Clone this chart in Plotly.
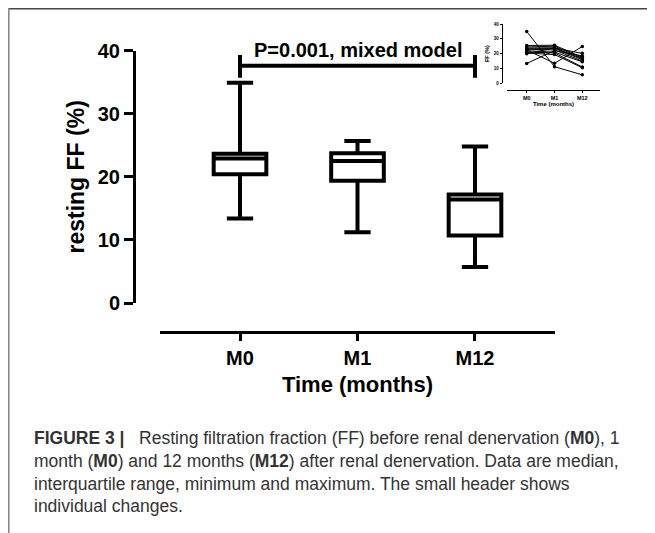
import plotly.graph_objects as go

# ---- data ----
categories = ["M0", "M1", "M12"]
q1_vals = [20.4, 19.4, 10.7]
median_vals = [22.9, 22.5, 16.4]
q3_vals = [23.65, 23.75, 17.2]
min_vals = [13.4, 11.2, 5.7]
max_vals = [34.9, 25.7, 24.8]

# individual patient trajectories (inset), values at M0, M1, M12
patients = [
    [34.9, 11.2, 5.7],
    [13.4, 22.0, 18.5],
    [22.5, 13.5, 24.8],
    [25.5, 25.7, 17.5],
    [24.5, 25.0, 17.0],
    [23.8, 24.0, 16.5],
    [23.2, 23.5, 16.0],
    [23.0, 22.5, 15.0],
    [22.0, 21.0, 14.5],
    [21.0, 20.5, 11.0],
    [20.4, 19.4, 10.5],
    [20.0, 23.8, 20.2],
]

p_text = "P=0.001, mixed model"
caption_lines = [
    "<b>FIGURE 3 |</b>" + "\u00a0" * 3
    + "Resting filtration fraction (FF) before renal denervation (<b>M0</b>), 1",
    "month (<b>M0</b>) and 12 months (<b>M12</b>) after renal denervation. Data are median,",
    "interquartile range, minimum and maximum. The small header shows",
    "individual changes.",
]

W, H = 655, 533
OFF = 8  # page body margin offset
FONT = "Liberation Sans"


def px_x(v):
    return (v - OFF) / W


def px_y(v):
    return 1 - (v - OFF) / H


fig = go.Figure()

fig.add_trace(go.Box(
    x=categories, q1=q1_vals, median=median_vals, q3=q3_vals,
    lowerfence=min_vals, upperfence=max_vals,
    fillcolor="white", line=dict(color="black", width=4),
    whiskerwidth=0.5, boxpoints=False, hoverinfo="skip",
    xaxis="x", yaxis="y", showlegend=False,
))

for p in patients:
    fig.add_trace(go.Scatter(
        x=categories, y=p, mode="lines+markers",
        line=dict(color="black", width=1),
        marker=dict(color="black", size=3.5),
        xaxis="x2", yaxis="y2", showlegend=False, hoverinfo="skip",
    ))

fig.update_layout(
    template="none",
    width=W, height=H,
    margin=dict(l=0, r=0, t=0, b=0, autoexpand=False),
    paper_bgcolor="white", plot_bgcolor="rgba(0,0,0,0)",
    boxgap=0.36,
    font=dict(family=FONT, color="black"),
    xaxis=dict(
        domain=[px_x(160), px_x(555)], range=[-0.681, 2.681],
        type="category", anchor="free", position=px_y(332), automargin=False,
        showline=True, linecolor="black", linewidth=3,
        ticks="outside", ticklen=7, tickwidth=3, tickcolor="black",
        showgrid=False, zeroline=False,
        tickfont=dict(size=20, family=FONT, weight="bold"),
        title=dict(text="Time (months)", font=dict(size=22, family=FONT, weight="bold"), standoff=8),
    ),
    yaxis=dict(
        domain=[px_y(303), px_y(50.7)], range=[0, 40],
        anchor="free", position=px_x(134), automargin=False,
        tickvals=[0, 10, 20, 30, 40],
        showline=True, linecolor="black", linewidth=3,
        ticks="outside", ticklen=9, tickwidth=3, tickcolor="black",
        showgrid=False, zeroline=False,
        tickfont=dict(size=20, family=FONT, weight="bold"),
        title=dict(text="resting FF (%)", font=dict(size=23, family=FONT, weight="bold"), standoff=5),
    ),
    xaxis2=dict(
        domain=[px_x(507), px_x(600)], range=[-0.709, 2.637],
        type="category", anchor="free", position=px_y(90), automargin=False,
        showline=True, linecolor="black", linewidth=1,
        ticks="outside", ticklen=2, tickwidth=1, tickcolor="black",
        showgrid=False, zeroline=False,
        tickfont=dict(size=5.5, family=FONT, weight="bold"),
        title=dict(text="Time (months)", font=dict(size=6, family=FONT, weight="bold"), standoff=2),
    ),
    yaxis2=dict(
        domain=[px_y(83.3), px_y(24)], range=[0, 40],
        anchor="free", position=px_x(501.7), automargin=False,
        tickvals=[0, 10, 20, 30, 40],
        showline=True, linecolor="black", linewidth=1,
        ticks="outside", ticklen=2, tickwidth=1, tickcolor="black",
        showgrid=False, zeroline=False,
        tickfont=dict(size=4.5, family=FONT, weight="bold"),
        title=dict(text="FF (%)", font=dict(size=5.5, family=FONT, weight="bold"), standoff=2),
    ),
)

# significance bracket
fig.add_shape(type="path", xref="x", yref="y",
              path="M 0,35.7 L 0,39.3 M 0,37.6 L 2,37.6 M 2,39.3 L 2,35.7",
              line=dict(color="black", width=4))
fig.add_annotation(x=1, y=37.6, xref="x", yref="y", text=f"<b>{p_text}</b>",
                   showarrow=False, yanchor="bottom", yshift=3,
                   font=dict(size=20, family=FONT, color="black"))

# frame lines
fig.add_shape(type="line", xref="paper", yref="paper",
              x0=0, x1=1, y0=1 - 0.8 / H, y1=1 - 0.8 / H,
              line=dict(color="#444444", width=1.6))
fig.add_shape(type="line", xref="paper", yref="paper",
              x0=0.8 / W, x1=0.8 / W, y0=1, y1=0,
              line=dict(color="#888888", width=1.6))

# caption
cap_y = [438, 461, 483.5, 506]
for txt, yy in zip(caption_lines, cap_y):
    fig.add_annotation(x=px_x(32), y=px_y(yy), xref="paper", yref="paper",
                       text=txt, showarrow=False, xanchor="left", yanchor="middle",
                       font=dict(size=17.5, family=FONT, color="#333333"))

fig.write_html("out.html")
